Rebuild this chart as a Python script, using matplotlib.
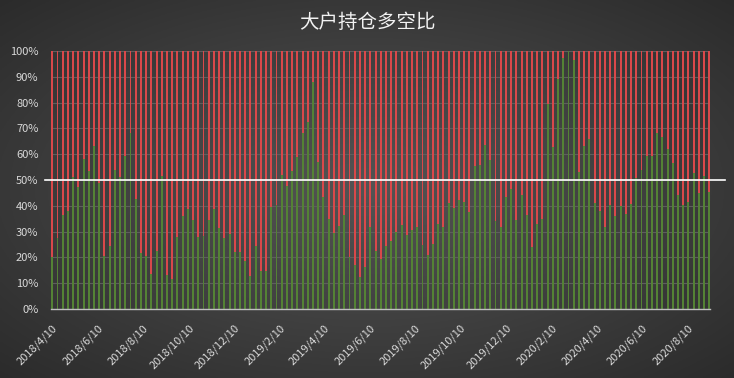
"""
Big trader long/short ratio, 100% stacked weekly bars.
"""

import matplotlib
matplotlib.use("Agg")
import matplotlib.pyplot as plt
import matplotlib.dates as mdates
import matplotlib.transforms as mtransforms
import numpy as np
import pandas as pd

plt.rcParams['font.family'] = ['Noto Sans CJK SC', 'DejaVu Sans']

title = "大户持仓多空比"
start_date = "2018-04-10"
n_weeks = 127

# long share (%), one value per week
long_pct = [20, 27.6, 36.6, 38, 51, 47.4, 58.3, 53.5, 63.3, 49,
            20.7, 24.5, 54, 51.2, 59.4, 68.2, 42.6, 21.7, 20.7, 13.7,
            22.6, 51.7, 13, 11.8, 27.9, 36.2, 38.8, 34.6, 27.9, 28.4,
            34.6, 38.8, 31.5,
            27.6, 29.2, 22.2, 22.2, 18.6, 12.9, 24.5, 14.7, 14.7, 39.5,
            40.3, 51.9, 47.8, 53.5, 58.9, 68.2, 72.6, 88.1, 57.1, 43.4,
            34.9, 29.5, 32.3, 36.4, 20.2, 17.1, 12.4, 16.3, 31.8, 22.5,
            19.4, 24.5,
            26.4, 30, 32.6, 28.7, 30.7, 31.8, 24.8, 20.9, 25.3, 33.1,
            31.8, 41.1, 39.3, 42.4, 41.6, 37.7, 55.6, 55.8, 63.6, 57.9,
            34.1, 31.8, 43.4, 46.5, 34.6, 44.2, 36.4, 24, 33.1, 34.9,
            79.6, 62.8, 89.1,
            97.4, 100, 96.6, 53.2, 63.3, 65.9, 41.1, 38, 31.8, 40.3,
            36.2, 40, 37, 40.8, 50.9, 54, 59.4, 59.4, 68.2, 66.7,
            62, 56.6, 44.2, 40.3, 41.6, 52.7, 45, 51.7, 45.5]

tick_dates = ["2018-04-10", "2018-06-10", "2018-08-10", "2018-10-10",
              "2018-12-10", "2019-02-10", "2019-04-10", "2019-06-10",
              "2019-08-10", "2019-10-10", "2019-12-10", "2020-02-10",
              "2020-04-10", "2020-06-10", "2020-08-10"]

yticks = [0, 10, 20, 30, 40, 50, 60, 70, 80, 90, 100]


def main():
    dates = pd.date_range(start_date, periods=n_weeks, freq="7D")
    long_arr = np.array(long_pct)
    short_arr = 100 - long_arr

    fig = plt.figure(figsize=(7.34, 3.78), dpi=100)

    # radial dark background
    bg = fig.add_axes([0, 0, 1, 1], zorder=-10)
    yy, xx = np.mgrid[-1:1:200j, -1:1:400j]
    r = np.sqrt(xx ** 2 + yy ** 2) / np.sqrt(2)
    shade = 0.33 - 0.16 * r
    bg.imshow(np.dstack([shade] * 3), aspect='auto', extent=[0, 1, 0, 1])
    bg.axis('off')

    ax = fig.add_axes([51 / 734, 69 / 378, 659 / 734, 258 / 378])
    ax.patch.set_alpha(0)

    w = 2.6
    ax.bar(dates, long_arr, width=w, color='#548235', zorder=3)
    ax.bar(dates, short_arr, width=w, bottom=long_arr, color='#d9484a', zorder=3)

    d0 = mdates.date2num(dates[0])
    ax.set_xlim(d0 - 1.7, d0 - 1.7 + 884.7)
    ax.set_ylim(0, 100)

    ax.set_yticks(yticks)
    ax.set_yticklabels([f"{v}%" for v in yticks])
    ax.yaxis.grid(True, color='#5e5e5e', lw=0.8, zorder=0)

    tds = pd.to_datetime(tick_dates)
    ax.set_xticks(tds)
    ax.set_xticklabels([f"{d.year}/{d.month}/{d.day}" for d in tds],
                       rotation=45, ha='right', va='top', rotation_mode='anchor')

    ax.tick_params(axis='both', length=0, colors='#d9d9d9', labelsize=8)
    ax.tick_params(axis='x', pad=10)
    ax.tick_params(axis='y', pad=9)

    for s in ['top', 'right', 'left']:
        ax.spines[s].set_visible(False)
    ax.spines['bottom'].set_color('#bfbfbf')
    ax.spines['bottom'].set_linewidth(1)
    ax.spines['bottom'].set_zorder(4)

    # 50% reference line, runs a bit past the plot area
    trans = mtransforms.blended_transform_factory(ax.transAxes, ax.transData)
    ax.plot([-0.009, 1.023], [50, 50], color='white', lw=1.2,
            transform=trans, clip_on=False, zorder=5)

    fig.text(0.5, 1 - 23 / 378, title, ha='center', va='center',
             color='#f2f2f2', fontsize=14)

    fig.savefig("out.png", dpi=100)


if __name__ == '__main__': main()
